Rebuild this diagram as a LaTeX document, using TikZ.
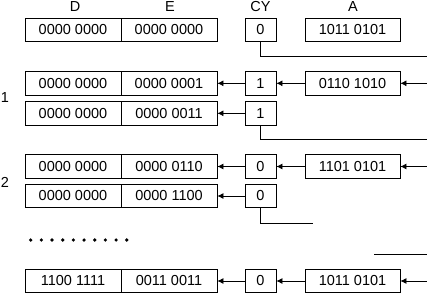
\documentclass[tikz,border=0pt]{standalone}
\usepackage{fontspec}
\setmainfont{Liberation Sans}
\usetikzlibrary{arrows.meta}
\begin{document}
\begin{tikzpicture}[x=1pt,y=-1pt,
  reg/.style={draw,line width=0.8pt,minimum width=96pt,minimum height=23.5pt,inner sep=0pt,font=\fontsize{14.5}{15}\selectfont},
  cyb/.style={reg,minimum width=31pt},
  ab/.style={reg,minimum width=95pt},
  hdr/.style={anchor=base,inner sep=0pt,font=\fontsize{14.5}{15}\selectfont},
  arr/.style={-{Latex[length=6pt,width=6pt]},line width=0.8pt},
  ln/.style={line width=0.8pt},
  dotmark/.style={circle,fill,inner sep=0pt,minimum size=3.6pt}]
\useasboundingbox (0,0) rectangle (427,294);
% headers
\node[hdr] (hD) at (75,11.5) {D};
\node[hdr] (hE) at (170,11.5) {E};
\node[hdr] (hCY) at (260.5,11.5) {CY};
\node[hdr] (hA) at (353,11.5) {A};
% row 0
\node[reg] (d0) at (73,30) {0000 0000};
\node[reg] (e0) at (169,30) {0000 0000};
\node[cyb] (c0) at (260.5,30) {0};
\node[ab] (a0) at (352.5,30) {1011 0101};
\coordinate (r0) at (427,56.5);
\draw[ln] (c0.south) |- (r0);
% step 1
\node[hdr] (l1) at (5,102.5) {1};
\node[reg] (d1) at (73,83.3) {0000 0000};
\node[reg] (e1) at (169,83.3) {0000 0001};
\node[cyb] (c1) at (260.5,83.3) {1};
\node[ab] (a1) at (352.5,83.3) {0110 1010};
\coordinate (r1) at (427,83.3);
\draw[arr] (r1) -- (a1.east);
\draw[arr] (a1.west) -- (c1.east);
\draw[arr] (c1.west) -- (e1.east);
\node[reg] (d1b) at (73,113.3) {0000 0000};
\node[reg] (e1b) at (169,113.3) {0000 0011};
\node[cyb] (c1b) at (260.5,113.3) {1};
\draw[arr] (c1b.west) -- (e1b.east);
\coordinate (r1b) at (427,139.3);
\draw[ln] (c1b.south) |- (r1b);
% step 2
\node[hdr] (l2) at (5,187) {2};
\node[reg] (d2) at (73,166.5) {0000 0000};
\node[reg] (e2) at (169,166.5) {0000 0110};
\node[cyb] (c2) at (260.5,166.5) {0};
\node[ab] (a2) at (352.5,166.5) {1101 0101};
\coordinate (r2) at (427,166.5);
\draw[arr] (r2) -- (a2.east);
\draw[arr] (a2.west) -- (c2.east);
\draw[arr] (c2.west) -- (e2.east);
\node[reg] (d2b) at (73,196) {0000 0000};
\node[reg] (e2b) at (169,196) {0000 1100};
\node[cyb] (c2b) at (260.5,196) {0};
\draw[arr] (c2b.west) -- (e2b.east);
\coordinate (r2b) at (313,223);
\draw[ln] (c2b.south) |- (r2b);
% dots
\foreach \i in {0,...,9} \node[dotmark] (dt\i) at (30.7+10.67*\i,240) {};
\coordinate (s1) at (374,254);
\coordinate (s2) at (427,254);
\draw[ln] (s1) -- (s2);
% last row
\node[reg] (d9) at (73,281) {1100 1111};
\node[reg] (e9) at (169,281) {0011 0011};
\node[cyb] (c9) at (260.5,281) {0};
\node[ab] (a9) at (352.5,281) {1011 0101};
\coordinate (r9) at (427,281);
\draw[arr] (r9) -- (a9.east);
\draw[arr] (a9.west) -- (c9.east);
\draw[arr] (c9.west) -- (e9.east);
\end{tikzpicture}
\end{document}
